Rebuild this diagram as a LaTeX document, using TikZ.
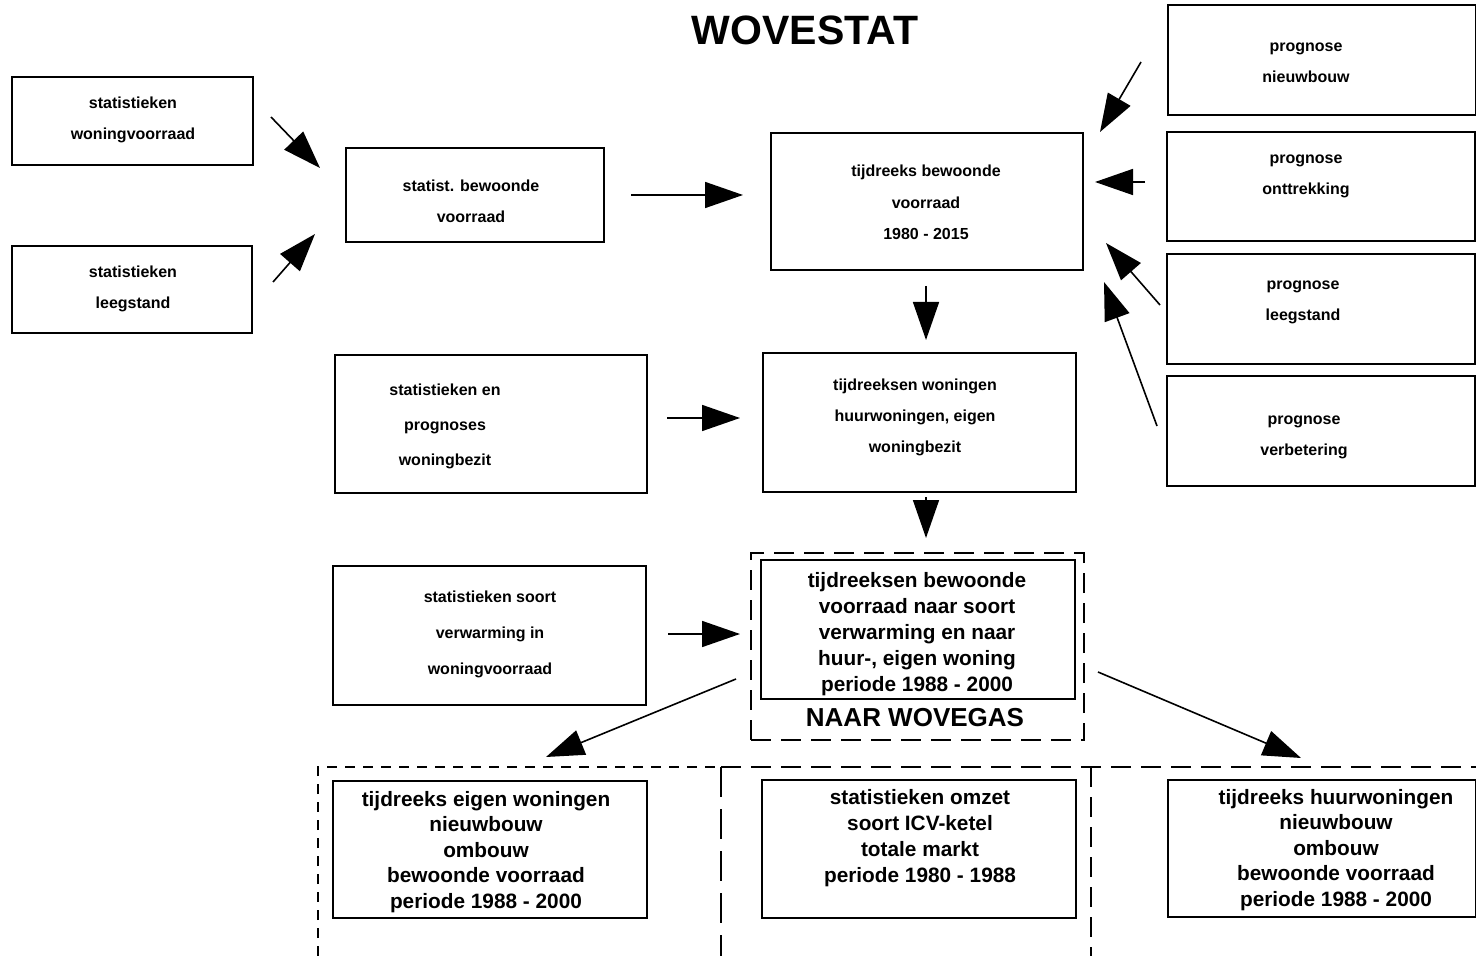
\documentclass[tikz,border=0pt]{standalone}
\usepackage{fontspec}
\setmainfont{Liberation Sans}
\usetikzlibrary{arrows.meta}
\begin{document}
\begin{tikzpicture}[x=0.5pt,y=-0.5pt,line width=1pt,>={Triangle[length=19pt,width=13pt]},
	box/.style={draw,inner sep=0pt},
	kader/.style={draw,inner sep=0pt,line width=0.8pt,dash pattern=on 10pt off 5pt},
	sm/.style={font=\bfseries\fontsize{8}{#1}\selectfont,align=center,inner sep=0pt},
	sm/.default=15.5,
	gr/.style={font=\bfseries\fontsize{10.4}{#1}\selectfont,align=center,inner sep=0pt},
	gr/.default=13,
	pijl/.style={->,line width=0.8pt},
	dsh/.style={line width=0.8pt,dash pattern=on 10pt off 5pt}]
	\def\bx#1#2(#3,#4)(#5,#6){
		\node[#1,minimum width={(#5-#3)*0.5pt},minimum height={(#6-#4)*0.5pt}] (#2) at ({(#3+#5)/2},{(#4+#6)/2}) {};
	}
	\useasboundingbox (0,0) rectangle (1476,956);
	\node[font=\bfseries\fontsize{20.5}{24}\selectfont] (titel) at (805,30) {WOVESTAT};
	\bx{box}{swv}(12,77)(253,165)
	\bx{box}{sls}(12,246)(252,333)
	\bx{box}{sbv}(346,148)(604,242)
	\bx{box}{tbv}(771,133)(1083,270)
	\bx{box}{pnb}(1168,5)(1476,115)
	\bx{box}{pot}(1167,132)(1475,241)
	\bx{box}{pls}(1167,254)(1475,364)
	\bx{box}{pvb}(1167,376)(1475,486)
	\bx{box}{spw}(335,355)(647,493)
	\bx{box}{twh}(763,353)(1076,492)
	\bx{box}{ssv}(333,566)(646,705)
	\bx{box}{tbs}(761,560)(1075,699)
	\bx{kader}{wvg}(751,553)(1084,740)
	\bx{box}{tew}(333,781)(647,918)
	\bx{box}{som}(762,780)(1076,918)
	\bx{box}{thw}(1168,780)(1476,917)
	\node[sm] (t1) at (133,119.5) {statistieken\\woningvoorraad};
	\node[sm] (t2) at (133,288.5) {statistieken\\leegstand};
	\node[sm] (t3) at (471,201.5) {statist. bewoonde\\voorraad};
	\node[sm=15.75] (t4) at (926,202.5) {tijdreeks bewoonde\\voorraad\\1980 - 2015};
	\node[sm] (t5) at (1306,62.5) {prognose\\nieuwbouw};
	\node[sm] (t6) at (1306,176.5) {prognose\\onttrekking};
	\node[sm] (t7) at (1303,302.5) {prognose\\leegstand};
	\node[sm] (t8) at (1304,437.5) {prognose\\verbetering};
	\node[sm=17.5] (t9) at (445,426.5) {statistieken en\\prognoses\\woningbezit};
	\node[sm] (t10) at (915,417) {tijdreeksen woningen\\huurwoningen, eigen\\woningbezit};
	\node[sm=18] (t11) at (490,634) {statistieken soort\\verwarming in\\woningvoorraad};
	\node[gr] (t12) at (917,634.5) {tijdreeksen bewoonde\\voorraad naar soort\\verwarming en naar\\huur-, eigen woning\\periode 1988 - 2000};
	\node[font=\bfseries\fontsize{13}{15}\selectfont,inner sep=0pt] (t13) at (915,718) {NAAR WOVEGAS};
	\node[gr=12.75] (t14) at (486,852) {tijdreeks eigen woningen\\nieuwbouw\\ombouw\\bewoonde voorraad\\periode 1988 - 2000};
	\node[gr] (t15) at (920,838) {statistieken omzet\\soort ICV-ketel\\totale markt\\periode 1980 - 1988};
	\node[gr=12.75] (t16) at (1336,850) {tijdreeks huurwoningen\\nieuwbouw\\ombouw\\bewoonde voorraad\\periode 1988 - 2000};
	\draw[line width=0.8pt,dash pattern=on 5pt off 4pt] (318,956) -- (318,767) -- (721,767);
	\draw[dsh] (721,767) -- (1476,767);
	\draw[line width=0.8pt,dash pattern=on 15pt off 6pt] (721,767) -- (721,956);
	\draw[dsh] (1091,767) -- (1091,956);
	\foreach \i/\xa/\ya/\xb/\yb in {1/271/117/320/168,2/273/282/315/234,3/631/195/743/195,
		4/1141/62/1100/132,5/1145/182/1095/182,6/1160/305/1106/243,7/1157/426/1104/282,
		8/926/286/926/340,9/667/418/740/418,10/926/497/926/538,11/668/634/740/634,
		12/736/679/546/757,13/1098/672/1301/758}{
		\coordinate (s\i) at (\xa,\ya);
		\coordinate (e\i) at (\xb,\yb);
		\draw[pijl] (s\i) -- (e\i);
	}
\end{tikzpicture}
\end{document}
